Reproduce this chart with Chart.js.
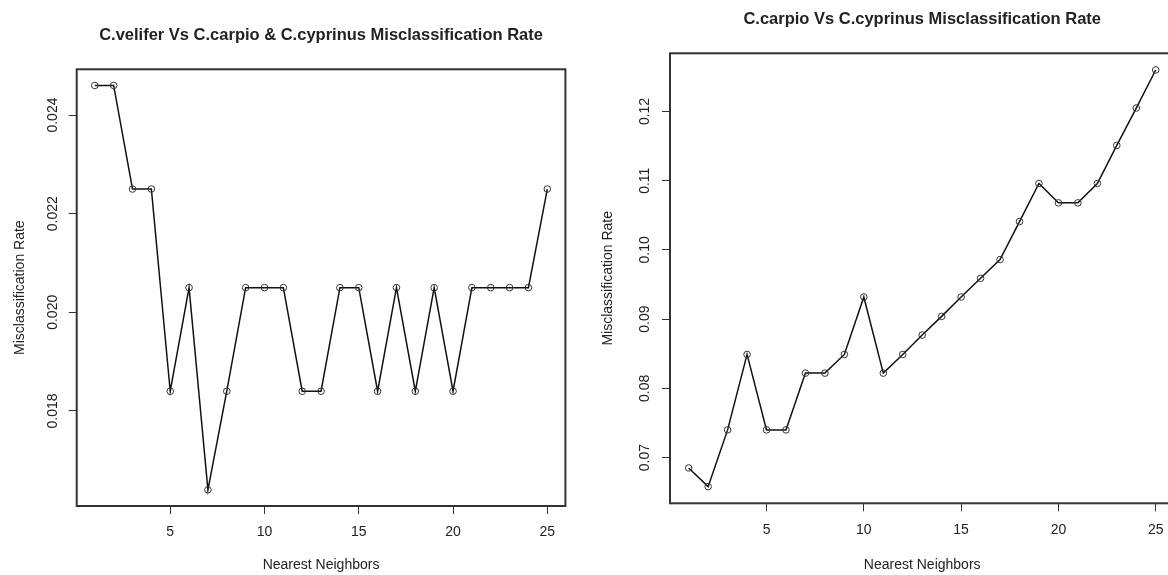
<!DOCTYPE html>
<html>
<head>
<meta charset="utf-8">
<script src="https://cdn.jsdelivr.net/npm/chart.js@4/dist/chart.umd.min.js"></script>
<style>
  html, body { margin: 0; padding: 0; background: #fff; overflow: hidden; }
  #wrap { position: relative; width: 1168px; height: 575px; overflow: hidden; }
  canvas { position: absolute; top: 0; }
  #left { left: 0; }
  #right { left: 590px; }
</style>
</head>
<body>
<div id="wrap">
  <canvas id="left" width="590" height="575"></canvas>
  <canvas id="right" width="620" height="575"></canvas>
</div>
<script>
// Nearest neighbours (k) on the x axis
const neighbors = [1, 2, 3, 4, 5, 6, 7, 8, 9, 10, 11, 12, 13, 14, 15, 16, 17, 18, 19, 20, 21, 22, 23, 24, 25];

// left panel: C.velifer vs C.carpio & C.cyprinus
const velRates = [0.0246, 0.0246, 0.0225, 0.0225, 0.0184, 0.0205, 0.0164, 0.0184, 0.0205, 0.0205,
                  0.0205, 0.0184, 0.0184, 0.0205, 0.0205, 0.0184, 0.0205, 0.0184, 0.0205, 0.0184,
                  0.0205, 0.0205, 0.0205, 0.0205, 0.0225];
// right panel: C.carpio vs C.cyprinus
const carpRates = [0.0685, 0.0658, 0.0740, 0.0849, 0.0740, 0.0740, 0.0822, 0.0822, 0.0849, 0.0932,
                   0.0822, 0.0849, 0.0877, 0.0904, 0.0932, 0.0959, 0.0986, 0.1041, 0.1096, 0.1068,
                   0.1068, 0.1096, 0.1151, 0.1205, 0.1260];

const xTicks = [5, 10, 15, 20, 25];
const velYTicks = [0.018, 0.020, 0.022, 0.024];
const velYLabels = ['0.018', '0.020', '0.022', '0.024'];
const carpYTicks = [0.07, 0.08, 0.09, 0.10, 0.11, 0.12];
const carpYLabels = ['0.07', '0.08', '0.09', '0.10', '0.11', '0.12'];

const FONT = '"Liberation Sans", Arial, sans-serif';
const INK = '#222';

// R-style frame, main title and rotated y tick labels
const rStyle = {
    id: 'rStyle',
    afterDraw(chart, args, opts) {
        const ctx = chart.ctx;
        const a = chart.chartArea;
        ctx.save();
        ctx.strokeStyle = '#333';
        ctx.lineWidth = 2;
        ctx.strokeRect(a.left, a.top, a.right - a.left, a.bottom - a.top);

        ctx.fillStyle = INK;
        ctx.font = 'bold 16.5px ' + FONT;
        ctx.textAlign = 'center';
        ctx.textBaseline = 'alphabetic';
        ctx.fillText(opts.title, (a.left + a.right) / 2, a.top - 29.5);

        const y = chart.scales.y;
        ctx.font = '14px ' + FONT;
        ctx.textBaseline = 'middle';
        y.ticks.forEach((t, i) => {
            ctx.save();
            ctx.translate(opts.labelX, y.getPixelForValue(t.value));
            ctx.rotate(-Math.PI / 2);
            ctx.fillText(opts.yLabels[i], 0, 0);
            ctx.restore();
        });
        ctx.restore();
    }
};

function makeChart(id, rates, yTicks, yLabels, box, title) {
    const ymin = Math.min(...rates), ymax = Math.max(...rates);
    const pad = (ymax - ymin) * 0.04;
    return new Chart(document.getElementById(id), {
        type: 'line',
        data: {
            datasets: [{
                data: neighbors.map((k, i) => ({ x: k, y: rates[i] })),
                borderColor: '#111',
                borderWidth: 1.5,
                pointRadius: 3.3,
                pointBorderWidth: 1,
                pointBorderColor: '#333',
                pointBackgroundColor: 'rgba(0,0,0,0)',
                tension: 0
            }]
        },
        options: {
            responsive: false,
            animation: false,
            events: [],
            layout: { padding: { top: box.top, right: box.right, left: 0, bottom: 0 } },
            plugins: {
                legend: { display: false },
                tooltip: { enabled: false },
                rStyle: { title: title, yLabels: yLabels, labelX: box.labelX }
            },
            scales: {
                x: {
                    type: 'linear',
                    min: 1 - 0.96,
                    max: 25 + 0.96,
                    afterBuildTicks: s => { s.ticks = xTicks.map(v => ({ value: v })); },
                    afterFit: s => { s.height = box.xHeight; },
                    ticks: {
                        color: INK,
                        padding: box.xPad,
                        maxRotation: 0,
                        font: { family: FONT, size: 14 },
                        callback: v => String(v)
                    },
                    grid: { drawOnChartArea: false, drawTicks: true, tickLength: 8, color: '#333', lineWidth: 1 },
                    border: { display: false },
                    title: {
                        display: true,
                        text: 'Nearest Neighbors',
                        color: INK,
                        font: { family: FONT, size: 14 },
                        padding: { top: 0, bottom: 1.6 }
                    }
                },
                y: {
                    type: 'linear',
                    min: ymin - pad,
                    max: ymax + pad,
                    afterBuildTicks: s => { s.ticks = yTicks.map(v => ({ value: v })); },
                    afterFit: s => { s.width = box.yWidth; },
                    ticks: { display: false },
                    grid: { drawOnChartArea: false, drawTicks: true, tickLength: 8, color: '#333', lineWidth: 1 },
                    border: { display: false },
                    title: {
                        display: true,
                        text: 'Misclassification Rate',
                        color: INK,
                        font: { family: FONT, size: 14 },
                        padding: { top: box.yTitlePad, bottom: 0 }
                    }
                }
            }
        },
        plugins: [rStyle]
    });
}

makeChart('left', velRates, velYTicks, velYLabels,
    { top: 69.3, right: 24.6, yWidth: 76.7, xHeight: 69, xPad: 9.3, yTitlePad: 11.6, labelX: 53.3 },
    'C.velifer Vs C.carpio & C.cyprinus Misclassification Rate');

makeChart('right', carpRates, carpYTicks, carpYLabels,
    { top: 53.3, right: 35.6, yWidth: 80, xHeight: 71.7, xPad: 10.3, yTitlePad: 9.6, labelX: 55 },
    'C.carpio Vs C.cyprinus Misclassification Rate');
</script>
</body>
</html>
